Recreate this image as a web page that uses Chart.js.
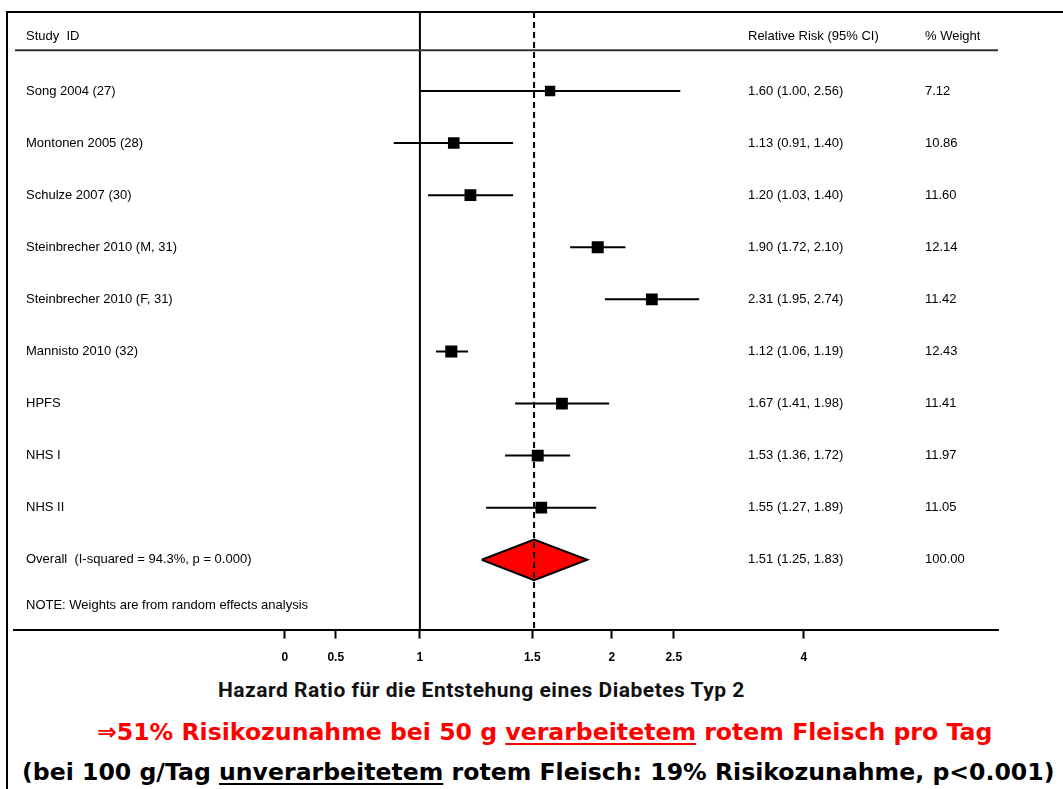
<!DOCTYPE html>
<html>
<head>
<meta charset="utf-8">
<script src="https://cdn.jsdelivr.net/npm/chart.js@4.4.0/dist/chart.umd.min.js"></script>
<style>
  html, body { margin: 0; padding: 0; background: #fff; }
  body { width: 1063px; height: 789px; position: relative; overflow: hidden; }
  #frame { position: absolute; left: 6px; top: 11px; right: -10px; bottom: -10px;
           border-top: 2px solid #000; border-left: 2px solid #000; }
  #wrap { position: absolute; left: 0; top: 0; width: 1063px; height: 677px; }
  .cap { position: absolute; white-space: nowrap; font-weight: bold; }
  .cap u { text-decoration-thickness: 2px; text-underline-offset: 3px; }
  #xtitle { left: 218px; top: 678px; font-family: Roboto, Lato, sans-serif; font-size: 21px; letter-spacing: 0.5px; color: #111; }
  #line1 { left: 97px; top: 718px; font-family: "DejaVu Sans", Verdana, sans-serif; font-size: 23.6px; color: #ff0000; }
  #line2 { left: 22px; top: 758px; font-family: "DejaVu Sans", Verdana, sans-serif; font-size: 23.6px; color: #000; }
</style>
</head>
<body>
<div id="frame"></div>
<div id="wrap"><canvas id="forest"></canvas></div>
<div class="cap" id="xtitle">Hazard Ratio für die Entstehung eines Diabetes Typ 2</div>
<div class="cap" id="line1">⇒51% Risikozunahme bei 50 g <u>verarbeitetem</u> rotem Fleisch pro Tag</div>
<div class="cap" id="line2">(bei 100 g/Tag <u>unverarbeitetem</u> rotem Fleisch: 19% Risikozunahme, p&lt;0.001)</div>
<script>
// study data
const studies = ['Song 2004 (27)', 'Montonen 2005 (28)', 'Schulze 2007 (30)',
  'Steinbrecher 2010 (M, 31)', 'Steinbrecher 2010 (F, 31)', 'Mannisto 2010 (32)',
  'HPFS', 'NHS I', 'NHS II'];
const rr     = [1.60, 1.13, 1.20, 1.90, 2.31, 1.12, 1.67, 1.53, 1.55];
const lower  = [1.00, 0.91, 1.03, 1.72, 1.95, 1.06, 1.41, 1.36, 1.27];
const upper  = [2.56, 1.40, 1.40, 2.10, 2.74, 1.19, 1.98, 1.72, 1.89];
const weight = [7.12, 10.86, 11.60, 12.14, 11.42, 12.43, 11.41, 11.97, 11.05];

const overallRR = 1.51, overallLower = 1.25, overallUpper = 1.83, overallWeight = 100.00;
const overallLabel = 'Overall  (I-squared = 94.3%, p = 0.000)';
const noteLabel = 'NOTE: Weights are from random effects analysis';

// x axis ticks (the picture puts "0" and "0.5" at these spots on the log axis)
const tickValues = [0.614, 0.738, 1, 1.5, 2, 2.5, 4];
const tickLabels = ['0', '0.5', '1', '1.5', '2', '2.5', '4'];

// row layout: row 0 header, 1..9 studies, 10 overall, ~10.9 note
const yMin = -0.516, yMax = 11.34;
const overallRow = studies.length + 1;
const noteRow = 10.88;
const diamondHalf = 0.39;

const fmt = v => v.toFixed(2);
const markerRadius = w => 3.6 + Math.sqrt(w) * 1.4;

const datasets = [];

// line of no effect
datasets.push({
  type: 'line', data: [{x: 1, y: yMin}, {x: 1, y: yMax}],
  borderColor: '#000', borderWidth: 2, pointRadius: 0, fill: false, order: 10
});

// confidence intervals
studies.forEach((s, i) => {
  datasets.push({
    type: 'line', data: [{x: lower[i], y: i + 1}, {x: upper[i], y: i + 1}],
    borderColor: '#000', borderWidth: 2, pointRadius: 0, fill: false, order: 8
  });
});

// pooled estimate diamond
datasets.push({
  type: 'line',
  data: [
    {x: overallLower, y: overallRow},
    {x: overallRR, y: overallRow - diamondHalf},
    {x: overallUpper, y: overallRow},
    {x: overallRR, y: overallRow + diamondHalf},
    {x: overallLower, y: overallRow}
  ],
  borderColor: '#000', borderWidth: 2, backgroundColor: '#ff0000',
  pointRadius: 0, fill: 'shape', order: 6
});

// dashed line at pooled estimate
datasets.push({
  type: 'line', data: [{x: overallRR, y: yMin}, {x: overallRR, y: yMax}],
  borderColor: '#000', borderWidth: 2, borderDash: [6, 4], pointRadius: 0, fill: false, order: 4
});

// study point estimates
datasets.push({
  type: 'scatter',
  data: rr.map((v, i) => ({x: v, y: i + 1})),
  pointStyle: 'rect',
  pointRadius: weight.map(markerRadius),
  backgroundColor: '#000', borderColor: '#000', borderWidth: 0, order: 1
});

const tablePlugin = {
  id: 'forestTable',
  afterDraw(chart) {
    const ctx = chart.ctx;
    const ys = chart.scales.y;
    const colStudy = 26, colRR = 748, colWeight = 925;
    ctx.save();
    ctx.fillStyle = '#000';
    ctx.textBaseline = 'middle';
    ctx.textAlign = 'left';
    ctx.font = '13px "Liberation Sans", Arial, sans-serif';

    const yHead = ys.getPixelForValue(0) - 2;
    ctx.fillText('Study  ID', colStudy, yHead);
    ctx.fillText('Relative Risk (95% CI)', colRR, yHead);
    ctx.fillText('% Weight', colWeight, yHead);

    // rule under the header
    ctx.strokeStyle = '#333';
    ctx.lineWidth = 2;
    ctx.beginPath();
    const yRule = ys.getPixelForValue(0.22);
    ctx.moveTo(15, yRule);
    ctx.lineTo(998, yRule);
    ctx.stroke();

    studies.forEach((s, i) => {
      const y = ys.getPixelForValue(i + 1);
      ctx.fillText(s, colStudy, y);
      ctx.fillText(fmt(rr[i]) + ' (' + fmt(lower[i]) + ', ' + fmt(upper[i]) + ')', colRR, y);
      ctx.fillText(fmt(weight[i]), colWeight, y);
    });

    const yo = ys.getPixelForValue(overallRow);
    ctx.fillText(overallLabel, colStudy, yo);
    ctx.fillText(fmt(overallRR) + ' (' + fmt(overallLower) + ', ' + fmt(overallUpper) + ')', colRR, yo);
    ctx.fillText(fmt(overallWeight), colWeight, yo);

    ctx.fillText(noteLabel, colStudy, ys.getPixelForValue(noteRow));
    ctx.restore();
  }
};

new Chart(document.getElementById('forest'), {
  type: 'scatter',
  data: { datasets: datasets },
  options: {
    responsive: true,
    maintainAspectRatio: false,
    animation: false,
    layout: { padding: { left: 14, right: 65, top: 12, bottom: 0 } },
    plugins: {
      legend: { display: false },
      tooltip: { enabled: false }
    },
    scales: {
      x: {
        type: 'logarithmic',
        min: 0.231,
        max: 8.06,
        bounds: 'data',
        afterBuildTicks: scale => {
          scale.ticks = tickValues.map(v => ({ value: v }));
        },
        ticks: {
          autoSkip: false,
          maxRotation: 0,
          padding: 12,
          color: '#000',
          font: { family: '"Liberation Sans", Arial, sans-serif', size: 12, weight: 'bold' },
          callback: (value, index) => tickLabels[index]
        },
        grid: {
          drawOnChartArea: false,
          drawTicks: true,
          tickLength: 9,
          tickColor: '#000',
          tickWidth: 2
        },
        border: { display: true, color: '#000', width: 2 }
      },
      y: {
        type: 'linear',
        min: yMin,
        max: yMax,
        reverse: true,
        display: false
      }
    }
  },
  plugins: [tablePlugin]
});
</script>
</body>
</html>
